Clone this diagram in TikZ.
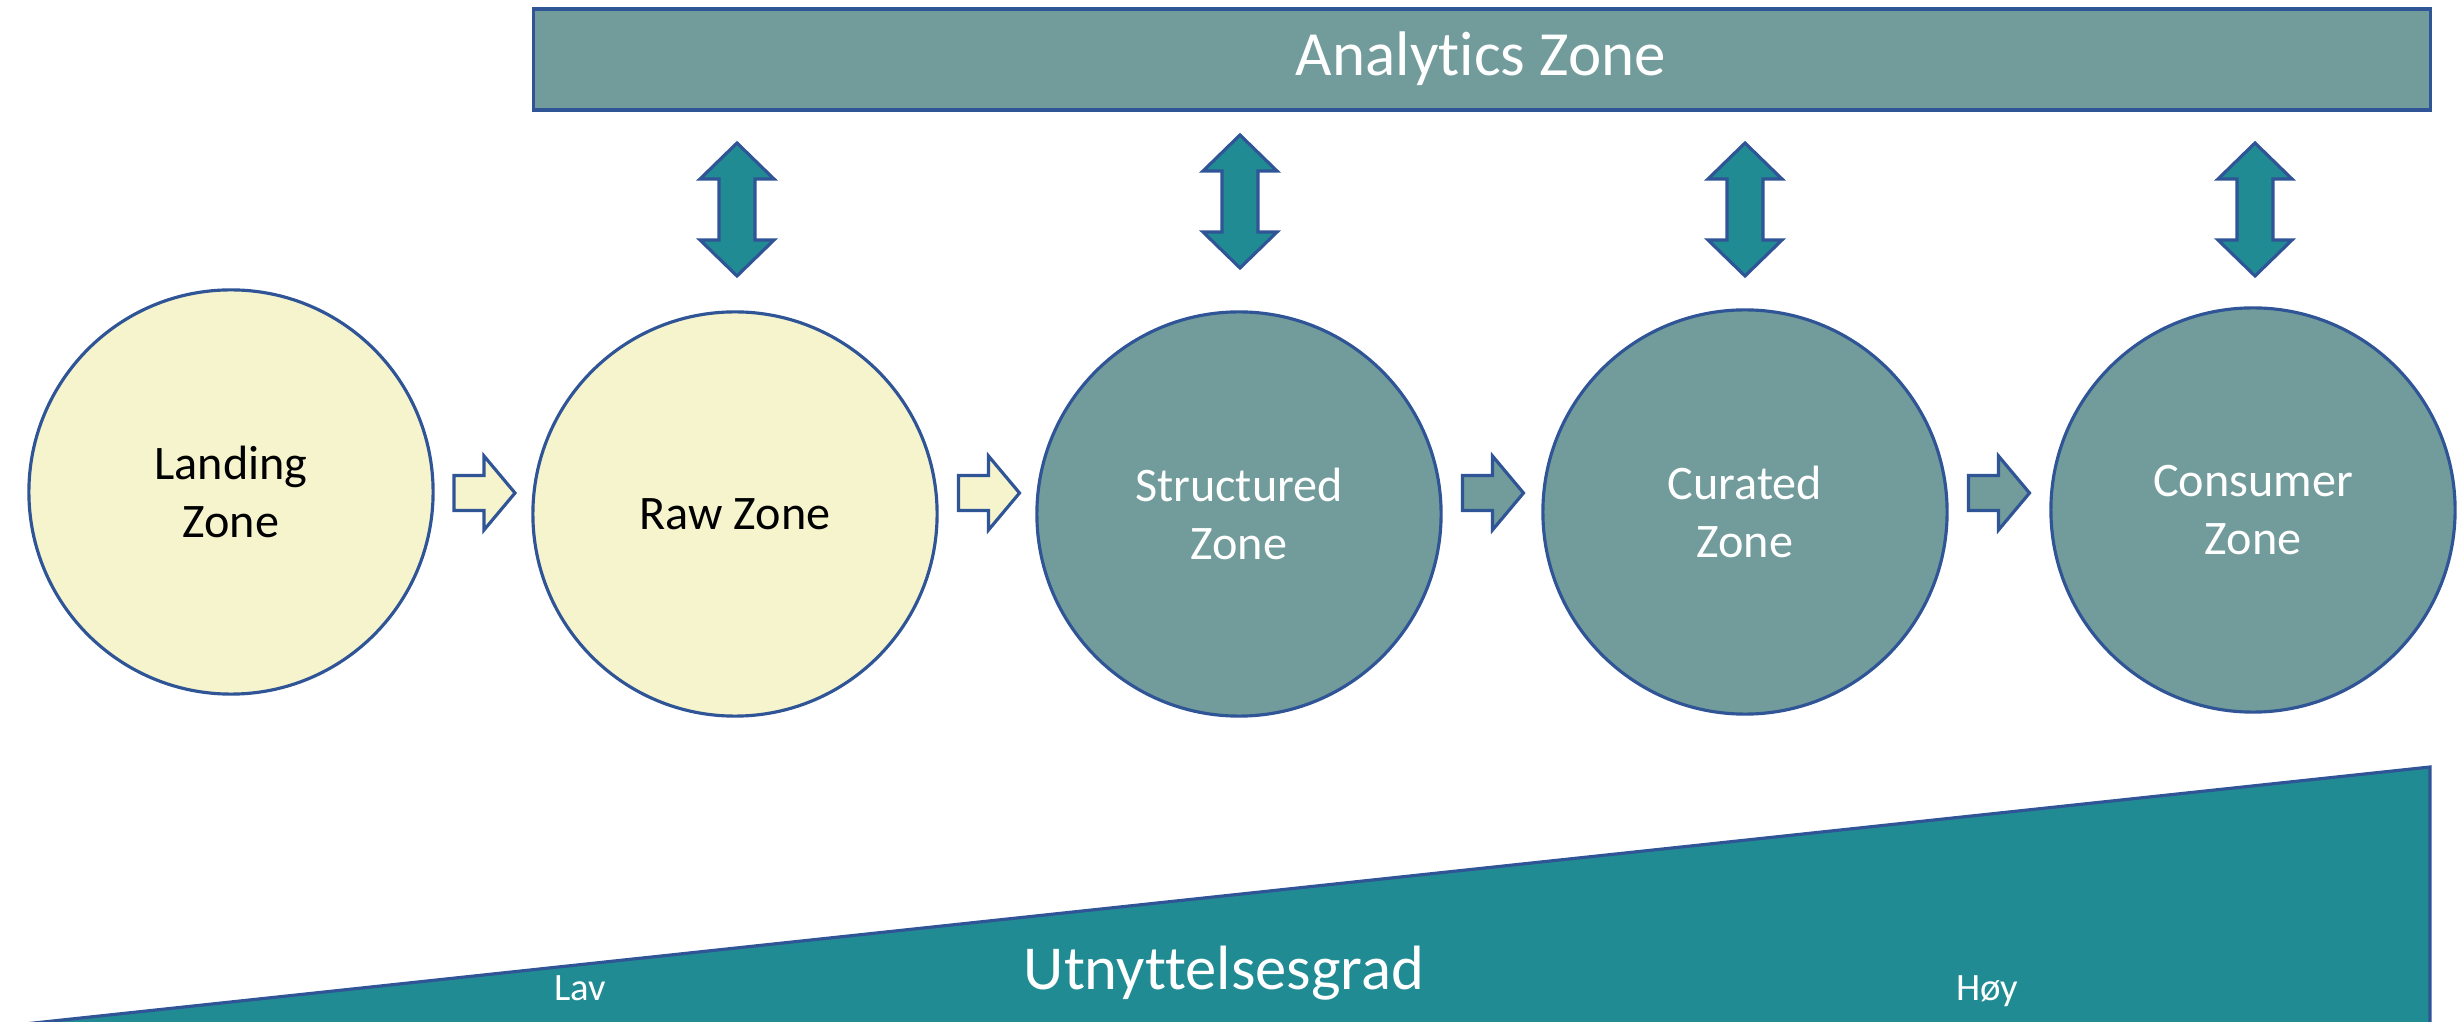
\documentclass[tikz,border=0pt]{standalone}
\usepackage{fontspec}
\setmainfont{Carlito}[Ligatures=NoCommon]
\definecolor{tealgray}{HTML}{729C9B}
\definecolor{ylw}{HTML}{F5F4CD}
\definecolor{darkteal}{HTML}{218B94}
\definecolor{bordc}{HTML}{2F5597}
\begin{document}
\begin{tikzpicture}[x=0.01cm,y=-0.01cm,
  outl/.style={draw=bordc,line width=0.9pt,line join=miter},
  zone/.style={outl,circle,minimum size=4.04cm,inner sep=0pt,align=center,font=\fontsize{13.7}{16.5}\selectfont},
  lightzone/.style={zone,fill=ylw,text=black},
  darkzone/.style={zone,fill=tealgray,text=white},
  dblarrow/.style={outl,fill=darkteal},
  stepl/.style={outl,fill=ylw},
  stepd/.style={outl,fill=tealgray},
  lbl/.style={text=white,anchor=base,inner sep=0pt}]
\useasboundingbox (0,0) rectangle (2463,1022);

% bottom wedge
\draw[outl,fill=darkteal] (6,1026) -- (2430,767) -- (2430,1026) -- cycle;
\node[lbl,font=\fontsize{11}{13}\selectfont] (lav) at (580,1000) {Lav};
\node[lbl,font=\fontsize{11}{13}\selectfont] (hoy) at (1987,1000) {Høy};
\node[lbl,font=\fontsize{17.8}{21}\selectfont] (grad) at (1224,989) {Utnyttelsesgrad};

% analytics zone
\node[outl,fill=tealgray,minimum width=18.96cm,minimum height=1.01cm,inner sep=0pt] (analytics) at (1482,59.5) {};
\node[lbl,font=\fontsize{17.9}{21}\selectfont] (analyticslbl) at (1481,76) {Analytics Zone};

% zones
\node[lightzone] (landing) at (231,492) {Landing\\Zone};
\node[lightzone] (raw) at (735,514) {Raw Zone};
\node[darkzone] (structured) at (1239,514) {Structured\\Zone};
\node[darkzone] (curated) at (1745,512) {Curated\\Zone};
\node[darkzone] (consumer) at (2253,510) {Consumer\\Zone};

% double arrows
\foreach \cx/\ty in {737/143, 1240/135, 1745/143, 2255/143}{
  \draw[dblarrow,shift={(\cx,\ty)}] (0,0) -- (37,36) -- (18,36) -- (18,97) -- (37,97) -- (0,133)
    -- (-37,97) -- (-18,97) -- (-18,36) -- (-37,36) -- cycle;
}

% step arrows
\foreach \tx/\st in {454/stepl, 958.5/stepl, 1462.5/stepd, 1968.5/stepd}{
  \draw[\st,shift={(\tx,493)}] (0,-17.5) -- (30,-17.5) -- (30,-37) -- (61,0) -- (30,37) -- (30,17.5) -- (0,17.5) -- cycle;
}
\end{tikzpicture}
\end{document}
